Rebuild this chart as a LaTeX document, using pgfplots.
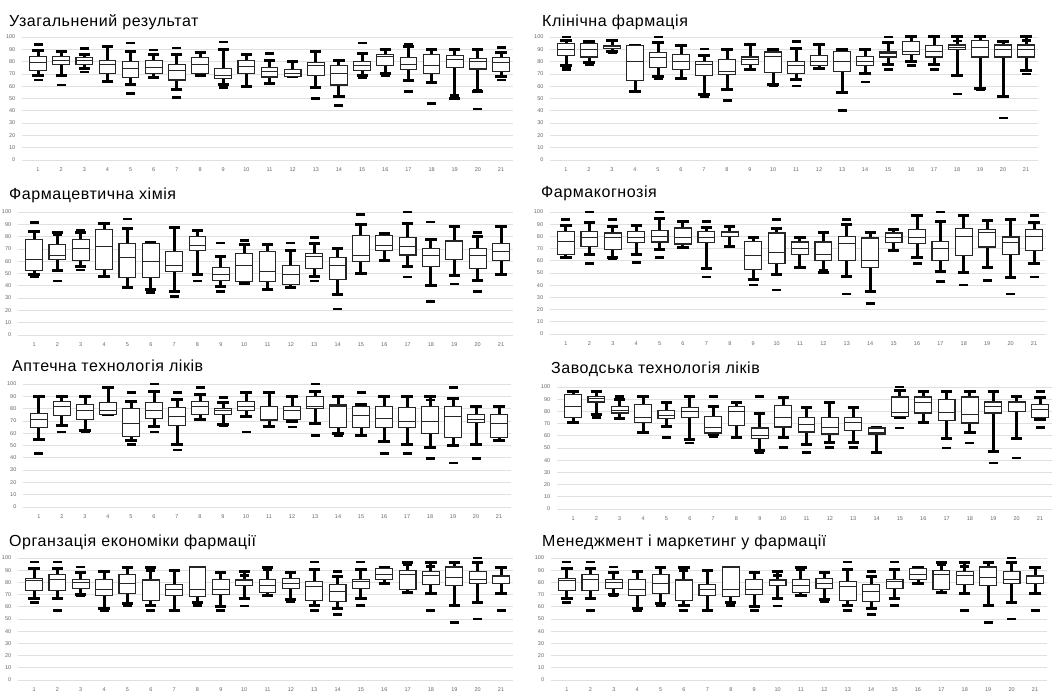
\documentclass[border=0pt]{standalone}
\usepackage{fontspec}
\setmainfont{Liberation Sans}
\usepackage{pgfplots}
\usepackage{pgfplotstable}
\usepgfplotslibrary{statistics}
\pgfplotsset{compat=1.18}

% ---------- box data: lw lq med uq uw ----------
\pgfplotstableread{
lw lq med uq uw
69 73 79 84 89
69 78 81 84 88
74 78 80.5 83 86
64 70 78 81 92
61.5 67 74 80 88
67 70 75 81 86
57 65 72.5 78 86
69 70 78 83.5 87.5
61 66.5 69 74.5 89.5
60 70 76 81 85.5
62.5 67.5 72 75 81
67.5 68 70.5 73.5 80
59 69 77 79 88
51.5 61 70 77 81
68.5 72.5 76.5 80 86.7
70 77 84 86 89.5
64.5 73.5 78 83.5 92.5
63.3 70 77 86 89.5
50 75 81.5 85 89.5
55.5 74 80 82.5 89.5
68 72 79.5 83 87.5
}\dA
\pgfplotstableread{
x y
1 94
1 65
2 61
3 90.5
3 71.5
5 95
5 54
6 89.5
7 91
7 51
9 96
9 58.7
11 86.7
13 50
14 44.3
15 95
15 67
16 68.5
17 94
17 55.7
18 46
19 51.5
19 53
20 41.5
20 57
21 91.5
21 65
}\oA

\pgfplotstableread{
lw lq med uq uw
77 85.3 89.7 95 97.5
79.6 83.7 89.7 95 96.7
88 90.8 92.4 93.2 97
55.7 64.4 80 93.2 93.2
68 75.5 83 87.5 95.6
66.6 73.4 80 86 93.2
53 68.8 78 80 84.8
57 69.3 72 82 89.7
73.4 78 81.3 83.7 93.7
61 71 84.2 87.8 90.2
65.2 70 77 80 90.8
74.2 77 80 85.3 93.7
55 71.7 80 88.3 90.2
70 77 80 84.2 89.7
77.4 83.7 86.4 87.8 95.6
80.2 86.1 88.3 96.7 100
77.4 83.7 88.3 93.2 100
68.8 89.7 91.6 93.5 100
58.4 83.7 91.6 97 100
51.6 83.7 89.7 93.5 96.7
72.8 83.7 89.7 93.5 100
}\dB
\pgfplotstableread{
x y
1 100
1 74.7
1 73.4
2 77.2
3 87
5 100
5 65.8
7 90.2
7 51.6
8 48.6
10 60.3
11 96.5
11 60
13 40.2
14 63.3
15 100
15 73.4
16 77
17 73.4
18 96.7
18 53.5
19 57
20 34
21 97.3
21 70
}\oB

\pgfplotstableread{
lw lq med uq uw
49.5 52.2 61.4 77.5 84.2
52.4 61.7 65 73.4 83.2
55.7 60.9 70 77.5 83.2
47.6 53.5 71.7 85.6 91
38.9 47 62.8 74.7 86.4
37.2 47 60 74.7 75.3
35.3 51.4 56.5 68 87
49.5 68.5 72.6 80.2 84.8
39.4 44.3 49.5 55.2 63.9
41.6 43.5 56.3 66 73.4
36.7 43.8 51.6 67.7 73.6
38.9 41.3 49.5 56.8 68.8
47.6 54 64 66.6 74.7
32.6 45.1 56.5 63 70.6
50.3 59.5 64.7 81 90
60.6 68.5 73 81 82.9
55.7 65 72.3 79.3 90.5
40.2 56 64.7 70 78
48 61.1 75.8 76.6 88.3
44 53.8 64.7 70 80.2
48.9 60.6 67.7 74.2 88.3
}\dC
\pgfplotstableread{
x y
1 91.6
1 47
2 81.3
2 44
3 85.5
3 53
5 94.3
6 34.5
7 31.3
8 44
9 74.7
9 35.3
10 77
11 37.5
12 74.7
13 79.3
13 44
14 21
15 97.8
17 100
17 47.3
18 91.8
18 27
19 41.3
20 83.2
20 35.3
}\oC

\pgfplotstableread{
lw lq med uq uw
62.3 65 75.7 83.9 88.8
65 71.6 79.5 83.9 91.5
63 69.1 79.5 82.8 88.3
65 74.9 79.5 83.9 88.8
69.1 75.4 80 85 95
71.3 73.8 79.5 86.9 92.3
53.6 74.9 79.5 83.9 87.7
71.6 80 82.8 83.9 88.3
45 52.7 64.5 76 79.2
48.6 57.7 67 82.8 86.6
54.6 65 70 75.4 79.2
50.8 60.4 65 75.4 82.8
47.3 60.4 74 80 89.6
35 54.6 60.4 78.7 83.3
68.3 74.9 79.2 82.8 86
63 74 79.5 85.5 97
51.4 60.4 70 75.7 92.3
50.5 64.5 80 86.6 97.3
54.6 71.3 82.8 86 93.2
45.9 65 74.6 79.5 93.7
57.7 68.3 80 86 91.5
}\dD
\pgfplotstableread{
x y
1 93.7
2 100
2 57.7
3 93.7
3 61.5
4 58.7
5 100
5 62.8
7 92.3
7 46.7
9 40
10 93.7
10 36
12 52.2
13 93.7
13 32.8
14 25.1
16 57.7
17 100
17 43.2
18 40
19 43.7
20 32.8
21 97.3
21 46.7
}\oD

\pgfplotstableread{
lw lq med uq uw
55.2 64.4 71.5 76 89.7
66 74.7 82 85.6 89.7
62.5 71.5 78.8 83.4 89.7
75.3 75.3 78.8 85 97
54.3 57 67.7 80.2 86.1
65.2 72 78.8 85 93.8
51 66 73.9 81 87.5
71.5 75.3 82 85.6 91.6
67.4 75.3 78.3 80.2 85
73.4 78.5 82 85.6 93.2
65.2 70.7 81.5 82 93.2
69.3 71.5 78.8 82 89.7
67.9 80.2 82 89.7 94.3
59.8 64.4 82 82.9 89.7
57.9 64.7 74.7 82 83.4
53 64.4 72 81.5 89.7
51 64.7 69.8 81 89.7
48.1 59.8 69.3 82 89.7
50.3 56.8 73.9 82 88.3
51 68.8 71.5 75.3 82
53.8 56.5 67.7 75.3 82
}\dE
\pgfplotstableread{
x y
1 43.5
2 61.1
3 61.1
5 93.2
5 50.8
6 100
6 61.1
7 93.2
7 46.2
8 97
9 89.1
9 65.8
10 61.1
12 65.2
13 100
13 57.9
14 57.9
15 93.2
16 43.5
17 43.5
18 87
18 39.4
19 97
19 35.9
20 39.4
}\oE

\pgfplotstableread{
lw lq med uq uw
71 75.1 83.9 93.7 96.4
77.3 87.7 90.9 92.3 96.4
74 78.7 80.9 83.9 89.6
62.3 71 75.1 86 92.3
67.8 74 76.5 80.6 87.7
56.8 75.1 80 83.3 92.3
61 62.3 67 76 84.2
59 68.3 80 83.9 87.7
47.8 57.7 60.4 66.4 77.9
58.7 67.2 75.1 84.7 91
52.7 63.1 69.1 74.9 83.3
54.9 61.5 67 74.9 87.7
54.9 64.2 70.5 75.1 83.3
45.9 61.5 62.3 66.4 66.4
74.6 75.9 78.7 91.8 97
71 78.7 87.7 91.8 95.9
57.4 72.4 79.2 89.6 96.4
63.1 70.5 77.3 91.8 95.9
47.3 78.7 83.9 87.7 95.9
57.4 80 87.7 87.7 92.3
73.2 75.1 81.4 85.5 91.5
}\dF
\pgfplotstableread{
x y
2 75.1
3 92.3
5 58.7
6 54
7 92.3
7 59
8 58.2
9 92.3
9 46.4
10 50.5
11 46.4
12 50.5
13 50.5
15 100
15 66.4
17 50
18 54
19 37.7
20 41.8
21 96.4
21 66.9
}\oF

\pgfplotstableread{
lw lq med uq uw
66.8 73.6 81.5 83 91.8
66.8 73.6 82.6 86.4 91.8
70.3 75 79.6 82.3 88
58.6 68.9 74.4 82.3 89.1
62.7 71.1 79 86.6 92.6
60.8 64.9 81.5 82.3 92.6
57.2 69.5 74.4 78.5 89.9
63.5 68.7 74.4 92.6 92.6
60 70.3 74.4 82.3 88.3
66.8 77.7 81.2 82.3 89.1
69.5 71.7 77.1 82.3 92.6
66.2 75 79 83.1 88.3
61.3 65.4 76.8 80.4 90.5
58.6 64 72.2 78.5 84.5
66.8 75 80.4 82.3 90.5
79 82.3 86.4 91.3 92.6
71.4 74.4 86.4 89.9 96.7
70.8 78.5 85.3 89.1 96.7
60.8 77.7 83.9 92.6 96.7
63.5 79 82.3 89.1 96.7
70.8 79 84.5 85.8 92.6
}\dG
\pgfplotstableread{
x y
1 96.7
1 63.5
2 96.7
2 57.2
3 92.6
3 68.7
4 57.2
5 61.3
6 89.9
6 57.2
8 61.3
9 57.2
10 85.8
10 60.8
11 90.5
12 64
13 96.7
13 57.2
14 89.1
14 53.7
15 96.7
15 61.3
17 94.5
18 93.2
18 57.2
19 46.9
20 100
20 50.1
21 57.2
}\oG

\pgfplotsset{
  panel/.style={
    scale only axis, clip=false,
    xmin=0.3, xmax=21.5, ymin=0, ymax=100,
    axis line style={draw=none},
    tick style={draw=none},
    xtick={1,...,21}, ytick={0,10,...,100},
    ymajorgrids, grid style={black!12, line width=0.7pt},
    /pgf/number format/assume math mode=true,
    ticklabel style={font=\fontsize{5.5}{6.5}\selectfont, text=black!60},
    yticklabel style={xshift=-3pt},
    xticklabel style={anchor=north, text height=4pt, text depth=0pt, yshift=-4pt},
    boxplot/draw direction=y,
    boxplot/box extend=0.72,
    boxplot/whisker extend=0.48,
    boxplot/every whisker/.style={line width=3pt, black},
    boxplot/every median/.style={line width=1pt},
  },
  outl/.style={only marks, mark=-, mark size=4.5pt, black,
    mark options={line width=2.6pt}},
}

\newcommand{\drawboxes}[2]{%
  \pgfplotsinvokeforeach{0,...,20}{%
    \pgfplotstablegetelem{##1}{lw}\of#1\let\vlw\pgfplotsretval
    \pgfplotstablegetelem{##1}{lq}\of#1\let\vlq\pgfplotsretval
    \pgfplotstablegetelem{##1}{med}\of#1\let\vmed\pgfplotsretval
    \pgfplotstablegetelem{##1}{uq}\of#1\let\vuq\pgfplotsretval
    \pgfplotstablegetelem{##1}{uw}\of#1\let\vuw\pgfplotsretval
    \edef\temp{\noexpand\addplot[draw=black!85, line width=1.1pt, fill=white,
      boxplot prepared={draw position=\the\numexpr##1+1\relax,
        lower whisker=\vlw, lower quartile=\vlq, median=\vmed,
        upper quartile=\vuq, upper whisker=\vuw}] coordinates {};}%
    \temp
  }%
  \addplot[outl] table[x=x, y=y] {#2};
}

\begin{document}
\begin{tikzpicture}
\path[use as bounding box] (0pt,0pt) rectangle (1053pt,691pt);
\tikzset{ttl/.style={anchor=base west, inner sep=0pt,
  font=\fontsize{16}{19}\selectfont\addfontfeatures{LetterSpace=3.5}}}

\node[ttl] at (9pt,664pt) {Узагальнений результат};
\node[ttl] at (542pt,664pt) {Клінічна фармація};
\node[ttl] at (9pt,491pt) {Фармацевтична хімія};
\node[ttl] at (541pt,493pt) {Фармакогнозія};
\node[ttl] at (12pt,319pt) {Аптечна технологія ліків};
\node[ttl] at (551pt,317pt) {Заводська технологія ліків};
\node[ttl] at (9pt,144pt) {Органзація економіки фармації};
\node[ttl] at (542pt,144pt) {Менеджмент і маркетинг у фармації};

\begin{axis}[panel, at={(21.8pt,531pt)}, anchor=south west, width=490.8pt, height=123pt]
\drawboxes{\dA}{\oA}
\end{axis}
\begin{axis}[panel, at={(549.9pt,531pt)}, anchor=south west, width=487.6pt, height=123pt]
\drawboxes{\dB}{\oB}
\end{axis}
\begin{axis}[panel, at={(17.7pt,356pt)}, anchor=south west, width=495pt, height=123pt]
\drawboxes{\dC}{\oC}
\end{axis}
\begin{axis}[panel, at={(549.6pt,357pt)}, anchor=south west, width=496.1pt, height=122pt]
\drawboxes{\dD}{\oD}
\end{axis}
\begin{axis}[panel, at={(22.9pt,184pt)}, anchor=south west, width=487.6pt, height=123pt]
\drawboxes{\dE}{\oE}
\end{axis}
\begin{axis}[panel, at={(556.7pt,182pt)}, anchor=south west, width=495pt, height=122pt]
\drawboxes{\dF}{\oF}
\end{axis}
\begin{axis}[panel, at={(17.7pt,11pt)}, anchor=south west, width=495pt, height=122pt]
\drawboxes{\dG}{\oG}
\end{axis}
\begin{axis}[panel, at={(550.6pt,11pt)}, anchor=south west, width=496.1pt, height=122pt]
\drawboxes{\dG}{\oG}
\end{axis}
\end{tikzpicture}
\end{document}
